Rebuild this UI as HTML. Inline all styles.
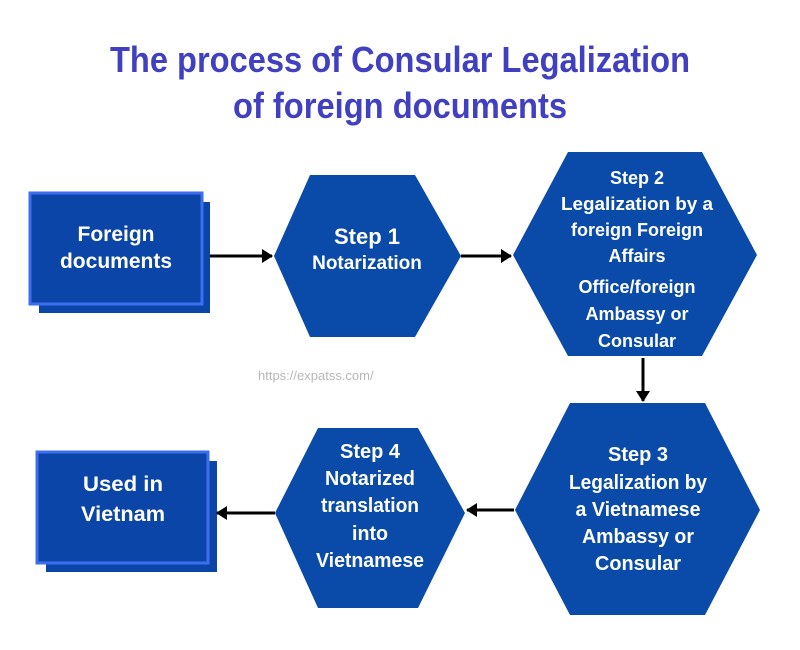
<!DOCTYPE html>
<html><head><meta charset="utf-8"><style>
html,body{margin:0;padding:0;background:#fff;}
svg{display:block;}
text{font-family:"Liberation Sans",Arial,sans-serif;font-weight:bold;}
</style></head><body>
<svg width="800" height="650" viewBox="0 0 800 650" xmlns="http://www.w3.org/2000/svg">
<defs>
<marker id="ah" markerWidth="12" markerHeight="14" refX="10" refY="7" orient="auto" markerUnits="userSpaceOnUse">
<path d="M0,0 L11,7 L0,14 Z" fill="#000"/></marker>
</defs>
<rect width="800" height="650" fill="#fff"/>
<g fill="#4040c0" font-size="36" text-anchor="middle">
<text x="400" y="72" textLength="580" lengthAdjust="spacingAndGlyphs">The process of Consular Legalization</text>
<text x="400" y="118" textLength="334" lengthAdjust="spacingAndGlyphs">of foreign documents</text>
</g>
<rect x="39" y="202" width="171" height="111" fill="#0b45a8"/>
<rect x="30" y="193" width="172" height="111" fill="#0b45a8" stroke="#3d6ef0" stroke-width="3"/>
<g fill="#fff" font-size="21" text-anchor="middle">
<text x="116" y="241">Foreign</text>
<text x="116" y="268">documents</text>
</g>
<polygon points="274,256 310,175 415,175 461,256 415,337 310,337" fill="#0a4aa8"/>
<g fill="#fff" text-anchor="middle">
<text x="367" y="244" font-size="22">Step 1</text>
<text x="367" y="269" font-size="19">Notarization</text>
</g>
<polygon points="513,255 568,152 702,152 757,255 702,356 568,356" fill="#0a4aa8"/>
<g fill="#fff" font-size="18" text-anchor="middle">
<text x="637" y="184">Step 2</text>
<text x="637" y="210" textLength="152" lengthAdjust="spacingAndGlyphs">Legalization by a</text>
<text x="637" y="236">foreign Foreign</text>
<text x="637" y="262">Affairs</text>
<text x="637" y="293">Office/foreign</text>
<text x="637" y="320">Ambassy or</text>
<text x="637" y="347">Consular</text>
</g>
<polygon points="515,510 570,403 705,403 760,510 705,615 570,615" fill="#0a4aa8"/>
<g fill="#fff" font-size="20" text-anchor="middle">
<text x="638" y="461" textLength="60" lengthAdjust="spacingAndGlyphs">Step 3</text>
<text x="638" y="489" textLength="138" lengthAdjust="spacingAndGlyphs">Legalization by</text>
<text x="638" y="516" textLength="125" lengthAdjust="spacingAndGlyphs">a Vietnamese</text>
<text x="638" y="543" textLength="112" lengthAdjust="spacingAndGlyphs">Ambassy or</text>
<text x="638" y="570" textLength="86" lengthAdjust="spacingAndGlyphs">Consular</text>
</g>
<polygon points="275,513 318,428 418,428 465,513 418,608 318,608" fill="#0a4aa8"/>
<g fill="#fff" font-size="20" text-anchor="middle">
<text x="370" y="458" textLength="60" lengthAdjust="spacingAndGlyphs">Step 4</text>
<text x="370" y="485" textLength="90" lengthAdjust="spacingAndGlyphs">Notarized</text>
<text x="370" y="512" textLength="98" lengthAdjust="spacingAndGlyphs">translation</text>
<text x="370" y="540" textLength="36" lengthAdjust="spacingAndGlyphs">into</text>
<text x="370" y="567" textLength="108" lengthAdjust="spacingAndGlyphs">Vietnamese</text>
</g>
<rect x="46" y="461" width="171" height="111" fill="#0b45a8"/>
<rect x="37" y="452" width="171" height="111" fill="#0b45a8" stroke="#3d6ef0" stroke-width="3"/>
<g fill="#fff" font-size="21" text-anchor="middle">
<text x="123" y="491" textLength="80" lengthAdjust="spacingAndGlyphs">Used in</text>
<text x="123" y="521" textLength="84" lengthAdjust="spacingAndGlyphs">Vietnam</text>
</g>
<g stroke="#000" stroke-width="3" fill="none">
<line x1="210" y1="256" x2="272" y2="256" marker-end="url(#ah)"/>
<line x1="461" y1="256" x2="511" y2="256" marker-end="url(#ah)"/>
<line x1="643" y1="358" x2="643" y2="401" marker-end="url(#ah)"/>
<line x1="514" y1="510" x2="467" y2="510" marker-end="url(#ah)"/>
<line x1="275" y1="513" x2="217" y2="513" marker-end="url(#ah)"/>
</g>
<text x="258" y="380" font-size="13" fill="#b8b8b8" style="font-weight:normal">https://expatss.com/</text>
</svg>
</body></html>
